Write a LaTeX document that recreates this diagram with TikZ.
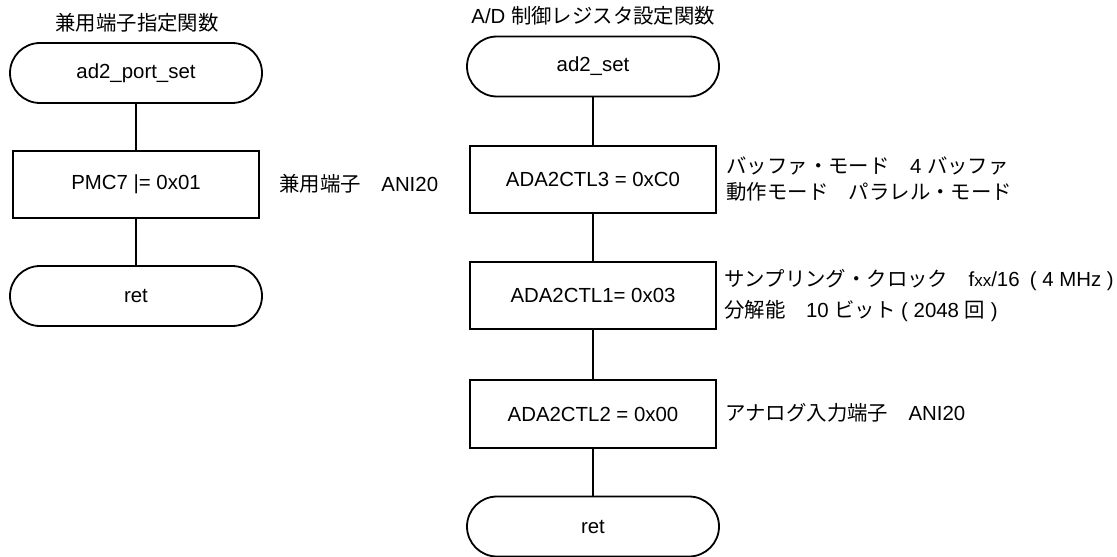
\documentclass[tikz,border=0pt]{standalone}
\usepackage{fontspec}
\setmainfont{Liberation Sans}
\newfontfamily\jp{Noto Sans CJK JP}
\usetikzlibrary{shapes.misc}

\begin{document}
\begin{tikzpicture}[x=0.5pt,y=-0.5pt,
    every node/.style={font=\fontsize{10.2}{12}\selectfont},
    term/.style={draw,line width=0.9pt,rounded rectangle,minimum height=30pt,minimum width=126pt,inner sep=0pt},
    proc/.style={draw,line width=0.9pt,rectangle,minimum height=33.8pt,minimum width=123pt,inner sep=0pt},
    note/.style={anchor=west,align=left,inner sep=0pt},
    link/.style={line width=0.9pt}]
  	\useasboundingbox (0,0) rectangle (1117,556);
  	\node (ltitle) at (137,23) {\jp 兼用端子指定関数};
  	\node[anchor=west,inner sep=0pt] (rtitle) at (471,16) {A/D {\jp 制御レジスタ設定関数}};
  	\node[term] (pstart) at (136,73) {ad2\_port\_set};
  	\node[proc] (pmc) at (136,184.5) {PMC7 |= 0x01};
  	\node[term] (pret) at (136,296) {ret};
  	\node[term] (astart) at (593,66.5) {ad2\_set};
  	\node[proc] (ctl3) at (593,179.5) {ADA2CTL3 = 0xC0};
  	\node[proc] (ctl1) at (593,295.5) {ADA2CTL1= 0x03};
  	\node[proc] (ctl2) at (593,414) {ADA2CTL2 = 0x00};
  	\node[term] (aret) at (593,526.5) {ret};
  	\foreach \a/\b in {pstart/pmc,pmc/pret,astart/ctl3,ctl3/ctl1,ctl1/ctl2,ctl2/aret}
  		\draw[link] (\a.south) -- (\b.north);
  	\node[note] (pmcnote) at (279,184) {{\jp 兼用端子　}ANI20};
  	\node[note] (ctl3note) at (726,179) {{\jp バッファ・モード　}4 {\jp バッファ}\\[1pt]{\jp 動作モード　パラレル・モード}};
  	\node[note] (ctl1note) at (724,296) {{\jp サンプリング・クロック　}f{\fontsize{8.5}{9}\selectfont xx}/16\enspace( 4 MHz )\\[3.5pt]{\jp 分解能　}10 {\jp ビット} ( 2048 {\jp 回} )};
  	\node[note] (ctl2note) at (725,413) {{\jp アナログ入力端子　}ANI20};
\end{tikzpicture}
\end{document}
